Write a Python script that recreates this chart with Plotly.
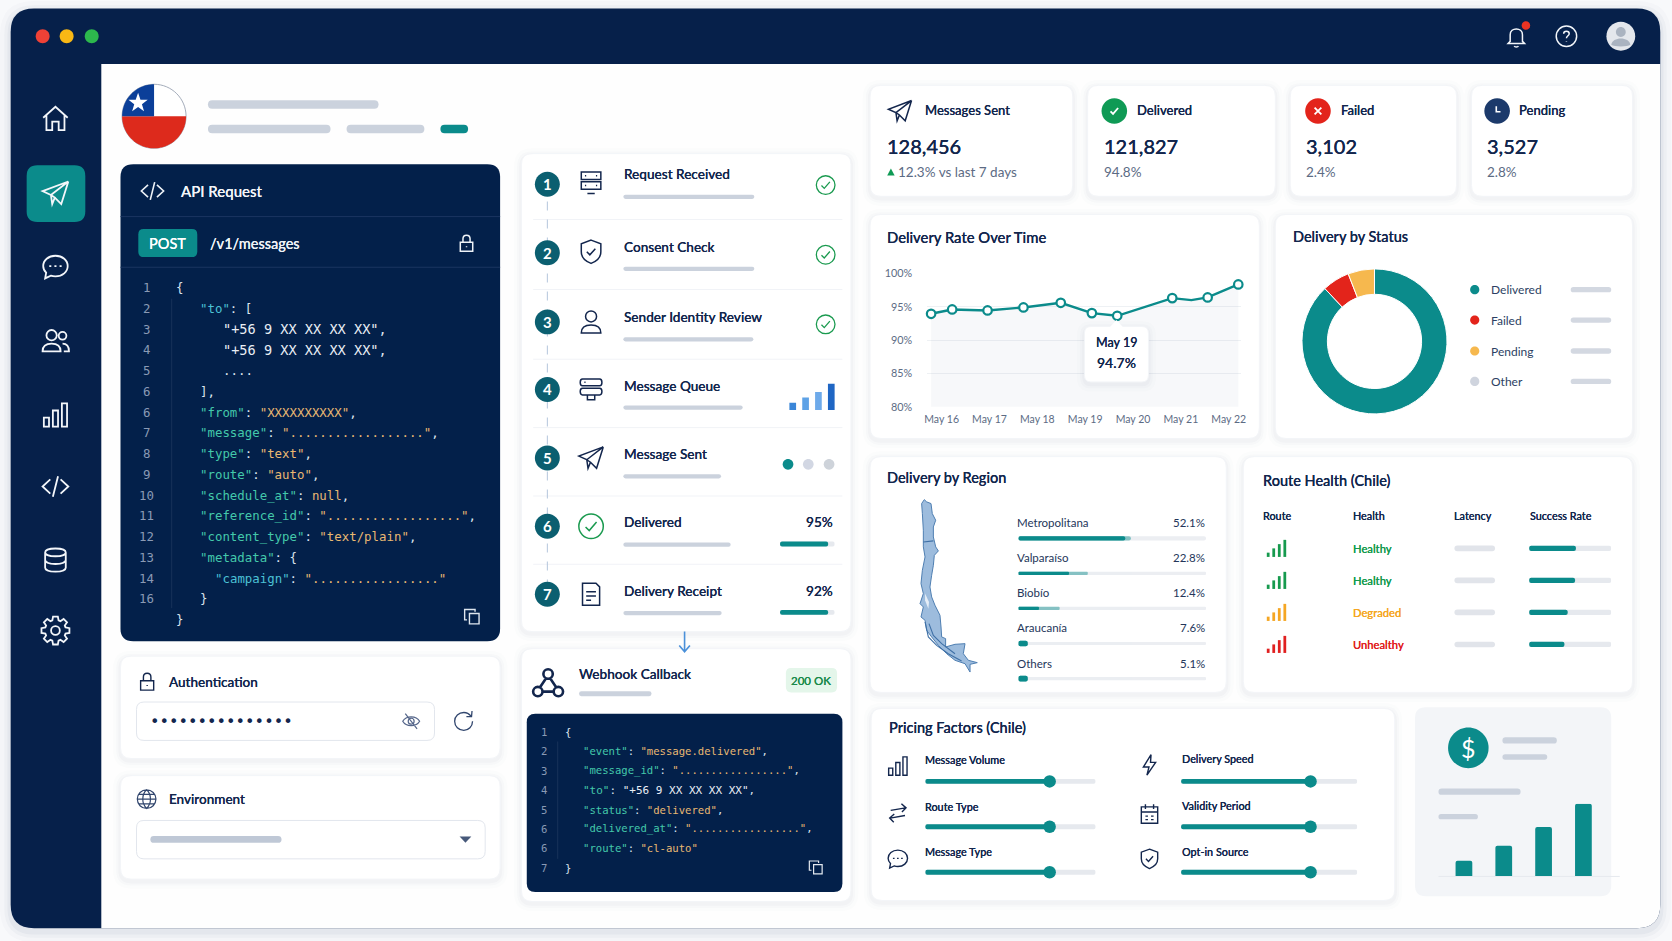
import math
import re
import plotly.graph_objects as go

# ---------- data ----------
rate_days = [15.78, 16.22, 16.96, 17.71, 18.49, 19.14, 19.67, 20.19, 20.82, 21.22, 21.56, 22.2]
rate_values = [93.95, 94.6, 94.45, 94.9, 95.6, 94.05, 93.65, 94.9, 96.3, 96.0, 96.4, 98.35]
rate_unmarked = [7, 9]
rate_tick_days = [16, 17, 18, 19, 20, 21, 22]
rate_tick_labels = ["May 16", "May 17", "May 18", "May 19", "May 20", "May 21", "May 22"]
rate_y_ticks = [80, 85, 90, 95, 100]
rate_y_labels = ["80%", "85%", "90%", "95%", "100%"]

status_names = ["Delivered", "Failed", "Pending", "Other"]
status_values = [88.0, 6.1, 5.9, 0]
status_colors = ["#0b8b8b", "#e3241b", "#f6b84e", "#cfd4de"]

region_names = ["Metropolitana", "Valparaíso", "Biobío", "Araucanía", "Others"]
region_labels = ["52.1%", "22.8%", "12.4%", "7.6%", "5.1%"]
region_bar = [60, 37, 22, 5, 5]
region_core = [57, 27, 11, 5, 5]

route_names = ["Route 1", "Route 2", "Route 3", "Route 4"]
route_health = ["Healthy", "Healthy", "Degraded", "Unhealthy"]
route_success = [57, 56, 47, 43]

pricing_left = ["Message Volume", "Route Type", "Message Type"]
pricing_left_values = [73, 73, 73]
pricing_right = ["Delivery Speed", "Validity Period", "Opt-in Source"]
pricing_right_values = [73.5, 73.5, 73.5]

steps = ["Request Received", "Consent Check", "Sender Identity Review", "Message Queue",
         "Message Sent", "Delivered", "Delivery Receipt"]
step_rates = ["Delivered", "Delivery Receipt"]
step_rate_labels = ["95%", "92%"]
step_rate_bars = [88, 88]

queue_levels = [27, 47, 68, 100]
price_levels = [15.3, 30.3, 49, 72.3]
price_slots = ["A", "B", "C", "D"]

stat_names = ["Messages Sent", "Delivered", "Failed", "Pending"]
stat_values = ["128,456", "121,827", "3,102", "3,527"]
stat_subs = ["12.3% vs last 7 days", "94.8%", "2.4%", "2.8%"]

K, S, P, C, W_ = "#43c9ab", "#e9b872", "#dde4ee", "#4cc2d6", "#e9eef5"
req_lines = [
    ("1", 165, [("{", P)]), ("2", 187.5, [('"to"', C), (": [", P)]),
    ("3", 208.8, [('"+56 9 XX XX XX XX"', W_), (",", P)]),
    ("4", 208.8, [('"+56 9 XX XX XX XX"', W_), (",", P)]),
    ("5", 208.8, [("....", P)]), ("6", 187.5, [("],", P)]),
    ("6", 187.5, [('"from"', K), (": ", P), ('"XXXXXXXXXX"', S), (",", P)]),
    ("7", 187.5, [('"message"', K), (": ", P), ('"..................\"', S), (",", P)]),
    ("8", 187.5, [('"type"', K), (": ", P), ('"text"', S), (",", P)]),
    ("9", 187.5, [('"route"', K), (": ", P), ('"auto"', S), (",", P)]),
    ("10", 187.5, [('"schedule_at"', K), (": ", P), ("null", S), (",", P)]),
    ("11", 187.5, [('"reference_id"', K), (": ", P), ('"..................\"', S), (",", P)]),
    ("12", 187.5, [('"content_type"', K), (": ", P), ('"text/plain"', S), (",", P)]),
    ("13", 187.5, [('"metadata"', K), (": {", P)]),
    ("14", 201.6, [('"campaign"', C), (": ", P), ('"................."', S)]),
    ("16", 187.5, [("}", P)]), ("", 165, [("}", P)]),
]
hook_lines = [
    ("1", 530, [("{", P)]),
    ("2", 547, [('"event"', K), (": ", P), ('"message.delivered"', S), (",", P)]),
    ("3", 547, [('"message_id"', K), (": ", P), ('"................."', S), (",", P)]),
    ("4", 547, [('"to"', K), (": ", P), ('"+56 9 XX XX XX XX"', W_), (",", P)]),
    ("5", 547, [('"status"', K), (": ", P), ('"delivered"', S), (",", P)]),
    ("6", 547, [('"delivered_at"', K), (": ", P), ('"................."', S), (",", P)]),
    ("6", 547, [('"route"', K), (": ", P), ('"cl-auto"', S)]),
    ("7", 530, [("}", P)]),
]

# ---------- page set up, coordinates below follow a 1568x882 grid ----------
W, H = 1568, 882
FONT = "Lato"
MONO = "DejaVu Sans Mono"
NAVY = "#06204a"
CODE_BG = "#03204a"
TEAL = "#0b8b8b"
INK = "#13264d"
GREY = "#5c6b84"
BAR = "#cbd2dd"
TRACK = "#e6e9ee"

shapes, notes, traces, axes = [], [], [], {}


def txt(x, y, s, size=14, color=INK, anchor="left", weight=500, family=FONT):
    font = dict(size=size, color=color, family=family, weight=weight)
    if weight == 500:
        font["shadow"] = f"0 0 0.35px {color}"
    if anchor == "left":
        x -= 0.8
    notes.append(dict(x=x, y=y, xref="x", yref="y", text=s, showarrow=False, xanchor=anchor,
                      yanchor="middle", borderpad=0, font=font))


def path(d, fill="rgba(0,0,0,0)", color=None, width=0, layer="below", opacity=None):
    s = dict(type="path", path=d, xref="x", yref="y", layer=layer, fillcolor=fill,
             line=dict(color=color or "rgba(0,0,0,0)", width=width))
    if opacity is not None:
        s["opacity"] = opacity
    shapes.append(s)


def rr(x0, y0, x1, y1, r):
    return (f"M {x0+r} {y0} L {x1-r} {y0} Q {x1} {y0} {x1} {y0+r} L {x1} {y1-r} Q {x1} {y1} {x1-r} {y1} "
            f"L {x0+r} {y1} Q {x0} {y1} {x0} {y1-r} L {x0} {y0+r} Q {x0} {y0} {x0+r} {y0} Z")


def round_box(x0, y0, x1, y1, r, fill, color=None, width=0, layer="below"):
    path(rr(x0, y0, x1, y1, r), fill, color, width, layer)


def pill(x0, y0, x1, y1, fill=BAR):
    round_box(x0, y0, x1, y1, (y1 - y0) / 2, fill)


def circ(cx, cy, r):
    k = 0.5523 * r
    return (f"M {cx+r} {cy} C {cx+r} {cy+k} {cx+k} {cy+r} {cx} {cy+r} C {cx-k} {cy+r} {cx-r} {cy+k} {cx-r} {cy} "
            f"C {cx-r} {cy-k} {cx-k} {cy-r} {cx} {cy-r} C {cx+k} {cy-r} {cx+r} {cy-k} {cx+r} {cy} Z")


def dot(cx, cy, r, fill, color=None, width=0, layer="below"):
    path(circ(cx, cy, r), fill, color, width, layer)


def card(x0, y0, x1, y1, r=10, fill="#ffffff", layer="below"):
    for grow, alpha in ((7, 0.012), (4, 0.018), (2, 0.025)):
        round_box(x0 - grow, y0 - grow + 2, x1 + grow, y1 + grow + 2, r + grow, f"rgba(40,60,100,{alpha})", layer=layer)
    round_box(x0, y0, x1, y1, r, fill, "#f3f5f8", 1, layer)


def gear():
    pts = []
    for i in range(8):
        a = i * math.pi / 4
        for da, rad in ((-0.30, 8.2), (-0.17, 11), (0.17, 11), (0.30, 8.2)):
            pts.append((12 + rad * math.cos(a + da), 12 + rad * math.sin(a + da)))
    return "M " + " L ".join(f"{round(px, 2)} {round(py, 2)}" for px, py in pts) + " Z " + circ(12, 12, 3.4)


ICONS = {
    "home": "M 2.5 11.5 L 12 3 L 21.5 11.5 M 5 9.5 L 5 21 L 9.5 21 L 9.5 14.5 L 14.5 14.5 L 14.5 21 L 19 21 L 19 9.5",
    "send": "M 22 3 L 2 10.5 L 8.5 13.5 L 22 3 M 22 3 L 16.5 20.5 L 11.5 15.5 M 8.5 13.5 L 9.5 20.5 L 11.5 15.5 L 8.5 13.5",
    "chat": "M 12 3.5 C 17.5 3.5 21.5 7 21.5 11.5 C 21.5 16 17.5 19.5 12 19.5 C 10.7 19.5 9.5 19.3 8.4 18.9 L 4 21 L 4.8 16.6 "
            "C 3.3 15.2 2.5 13.4 2.5 11.5 C 2.5 7 6.5 3.5 12 3.5 Z M 7.2 11.5 L 8.8 11.5 M 11.2 11.5 L 12.8 11.5 M 15.2 11.5 L 16.8 11.5",
    "users": circ(9, 8, 4) + " M 2 20.5 C 2 16 5 14.5 9 14.5 C 13 14.5 16 16 16 20.5 Z " + circ(17.5, 8.5, 3)
             + " M 17.5 14.5 C 20.5 14.5 22.5 16.5 22.5 20.5 L 18.5 20.5",
    "bars": "M 3 14 L 7 14 L 7 21 L 3 21 Z M 10 8.5 L 14 8.5 L 14 21 L 10 21 Z M 17 3 L 21 3 L 21 21 L 17 21 Z",
    "code": "M 8 6.5 L 2 12 L 8 17.5 M 16 6.5 L 22 12 L 16 17.5 M 14 4 L 10 20",
    "db": "M 4 6 C 4 2 20 2 20 6 C 20 10 4 10 4 6 Z M 4 6 L 4 18 C 4 22 20 22 20 18 L 20 6 M 4 12 C 4 16 20 16 20 12",
    "gear": gear(),
    "lock": "M 5 11 L 19 11 L 19 21 L 5 21 Z M 8 11 L 8 7 C 8 1.5 16 1.5 16 7 L 16 11 M 12 15.4 L 12 16.6",
    "copy": "M 9 8 L 21 8 L 21 21 L 9 21 Z M 6 16 L 3 16 L 3 3 L 16 3 L 16 6",
    "eyeoff": "M 2 12 C 6 5 18 5 22 12 C 18 19 6 19 2 12 Z " + circ(12, 12, 3.5) + " M 5 3 L 19 21",
    "refresh": "M 20.5 12 C 20.5 17 16.5 21 12 21 C 7 21 3 17 3 12 C 3 7 7 3.5 12 3.5 C 14.5 3.5 17 4.5 19 7 M 20 2 L 19.5 7.5 L 14.5 7.5",
    "globe": circ(12, 12, 10) + " M 2 12 L 22 12 M 12 2 C 6.5 7 6.5 17 12 22 C 17.5 17 17.5 7 12 2 Z M 3.8 7 L 20.2 7 M 3.8 17 L 20.2 17",
    "webhook": circ(12, 6, 3.2) + " " + circ(5, 18, 3.2) + " " + circ(19, 18, 3.2) + " M 10.5 9 L 6.5 15 M 13.5 9 L 17.5 15 M 8.2 18 L 15.8 18",
    "server": "M 4 3 L 20 3 L 20 9 L 4 9 Z M 4 11 L 20 11 L 20 17 L 4 17 Z M 9 20.5 L 15 20.5 M 7 6 L 8 6 M 16 6 L 17 6 M 7 14 L 8 14 M 16 14 L 17 14",
    "queue": "M 5 3.5 L 19 3.5 C 21.5 3.5 21.5 9 19 9 L 5 9 C 2.5 9 2.5 3.5 5 3.5 Z M 5 11 L 19 11 C 21.5 11 21.5 16.5 19 16.5 L 5 16.5 "
             "C 2.5 16.5 2.5 11 5 11 Z M 9 16.5 L 9 20.5 L 15 20.5 L 15 16.5 M 6.5 6.2 L 7.5 6.2",
    "shield": "M 12 2.5 L 20 5.5 L 20 12 C 20 17 16 20 12 21.5 C 8 20 4 17 4 12 L 4 5.5 Z M 8.5 12 L 11 14.5 L 15.5 9.5",
    "user": circ(12, 7.5, 4.5) + " M 4 21 C 4 16 7.5 14.5 12 14.5 C 16.5 14.5 20 16 20 21 Z",
    "doc": "M 5 3 L 16 3 L 19 6 L 19 21 L 5 21 Z M 8 10 L 16 10 M 8 13.5 L 16 13.5 M 8 17 L 12 17",
    "bolt": "M 13.5 2 L 6 14 L 11.5 14 L 9.5 22 L 18 9.5 L 13 9.5 Z",
    "swap": "M 5 9.5 L 19.5 7 M 15.5 3 L 20 7 L 16 11 M 19 14.5 L 4.5 17 M 8.5 13 L 4 17 L 8 21",
    "calendar": "M 4 5 L 20 5 L 20 21 L 4 21 Z M 4 10 L 20 10 M 8 2.5 L 8 7 M 16 2.5 L 16 7 M 8 14 L 10.5 14 M 13.5 14 L 16 14 M 8 17.5 L 10.5 17.5 M 13.5 17.5 L 16 17.5",
    "bell": "M 6 17 L 6 10.5 C 6 3 18 3 18 10.5 L 18 17 L 20 19 L 4 19 Z M 10 21.5 C 10.5 22.8 13.5 22.8 14 21.5",
    "help": circ(12, 12, 10) + " M 9.3 9.5 C 9.3 6.3 14.7 6.3 14.7 9.5 C 14.7 11.5 12 11.5 12 14 M 12 17 L 12 17.6",
    "check": "M 7.5 12.5 L 10.5 15.5 L 16.5 8.5",
    "ring": circ(12, 12, 10),
    "cross": "M 8 8 L 16 16 M 16 8 L 8 16",
    "clock": "M 11 6.5 L 11 13 L 16 13",
}


def icon(name, cx, cy, size=24, color=INK, width=1.6, layer="below"):
    scale = size / 24
    parts, is_x = [], True
    for tok in re.findall(r"[MLCQZ]|-?[0-9.]+", ICONS[name]):
        if tok.isalpha():
            parts.append(tok)
            is_x = True
        else:
            val = float(tok) - 12
            parts.append(str(round((cx if is_x else cy) + val * scale, 2)))
            is_x = not is_x
    path(" ".join(parts), color=color, width=width, layer=layer)


def new_axes(x0, y0, x1, y1, xrange, yrange, xextra=None, yextra=None):
    n = len(axes) // 2 + 2
    base = dict(visible=False, fixedrange=True, showgrid=False, zeroline=False)
    axes[f"xaxis{n}"] = {**base, "domain": [x0 / W, x1 / W], "range": xrange, "anchor": f"y{n}", **(xextra or {})}
    axes[f"yaxis{n}"] = {**base, "domain": [1 - y1 / H, 1 - y0 / H], "range": yrange, "anchor": f"x{n}", **(yextra or {})}
    return f"x{n}", f"y{n}"


def hbars(xa, ya, names, values, color, thick, radius=3, opacity=None):
    traces.append(go.Bar(x=values, y=names, orientation="h", xaxis=xa, yaxis=ya, width=thick, base=0,
                         marker=dict(color=color, cornerradius=radius, line=dict(width=0)),
                         opacity=opacity, hoverinfo="skip", showlegend=False))


# ---------- window chrome ----------
for grow, alpha in ((10, 0.02), (6, 0.03), (3, 0.04)):
    round_box(10 - grow, 8 - grow + 3, 1557 + grow, 870 + grow + 3, 22 + grow, f"rgba(30,50,90,{alpha})")
round_box(10, 8, 1557, 870, 22, NAVY)
path("M 95 60 L 1557 60 L 1557 848 Q 1557 870 1535 870 L 95 870 Z", "#fefefe")
for x, col in ((40, "#ef4136"), (62.5, "#f9b815"), (86, "#2db84d")):
    dot(x, 34, 6.5, col)
icon("bell", 1422, 34, 23, "#f3f6fa", 1.5)
dot(1431, 24, 4, "#ea3323")
icon("help", 1469, 34, 23, "#f3f6fa", 1.5)
dot(1520, 34, 13.5, "#e4e7ec")
dot(1520, 30, 4.6, "#aab3c0")
path("M 1511 42 C 1512 34 1528 34 1529 42 C 1526 44 1514 44 1511 42 Z", "#aab3c0")

round_box(25, 155, 80, 208, 10, TEAL)
side = [("home", 111), ("send", 181), ("chat", 250), ("users", 319), ("bars", 389), ("code", 456), ("db", 525), ("gear", 591)]
for name, y in side:
    icon(name, 52, y, 29, "#f3f6fa", 1.8)

# flag
fx, fy, fr = 144.5, 109, 30


def sector(a0, a1, extra=None):
    pts = [(fx + fr * math.cos(math.radians(a)), fy + fr * math.sin(math.radians(a)))
           for a in range(a0, a1 + 1, 3)]
    if extra:
        pts.append(extra)
    return "M " + " L ".join(f"{round(a, 2)} {round(b, 2)}" for a, b in pts) + " Z"


dot(fx, fy, fr, "#ffffff", "#8d97a8", 0.8)
path(sector(0, 180), "#dd2a1c")
path(sector(180, 270, (fx, fy)), "#0b3f99")
star = []
for i in range(10):
    rad = 9.5 if i % 2 == 0 else 3.8
    a = -math.pi / 2 + i * math.pi / 5
    star.append(f"{round(129.5 + rad * math.cos(a), 2)} {round(96.5 + rad * math.sin(a), 2)}")
path("M " + " L ".join(star) + " Z", "#ffffff")
pill(195, 94, 355, 102)
pill(195, 117, 310, 125)
pill(325, 117, 398, 125)
pill(413, 117, 439, 125, TEAL)

# ---------- API request panel ----------
round_box(113, 154, 469, 601, 12, CODE_BG)
path("M 113 203 L 469 203 M 113 250.5 L 469 250.5", color="#1b3560", width=1)
path("M 161 280 L 161 570", color="#183259", width=1)
icon("code", 143, 179, 25, "#eef2f7", 1.6)
txt(170, 179, "API Request", 15, "#f2f5f9")
round_box(129.7, 214.7, 185, 241, 5, TEAL)
txt(157.3, 228, "POST", 14.5, "#ffffff", "center")
txt(197, 228, "/v1/messages", 14.5, "#eef2f7")
icon("lock", 437.5, 228, 20, "#eef2f7", 1.5)
icon("copy", 442.5, 578, 18, "#dfe6ef", 1.4)


def code_block(lines, no_x, y0, step, size, phone_size):
    for i, (no, x, parts) in enumerate(lines):
        y = y0 + i * step
        if no:
            txt(no_x, y, no, size, "#8a9ab5", "center", 400, MONO)
        s = "".join(f'<span style="color:{c}">{t}</span>' for t, c in parts)
        txt(x, y, s, phone_size if "+56" in s else size, P, "left", 400, MONO)


code_block(req_lines, 137.5, 269.6, 19.45, 12.4, 13.6)

# ---------- auth and environment ----------
card(113, 615, 469, 711)
icon("lock", 138, 639, 21, INK, 1.4)
txt(158.6, 639, "Authentication", 13.5)
round_box(128, 658, 407.5, 694, 7, "#ffffff", "#e2e6ed", 1)
txt(207.5, 676, "•" * 15, 15.8, INK, "center", 400, MONO)
icon("eyeoff", 385.6, 676, 19, "#55668a", 1.2)
icon("refresh", 435, 676, 23, "#31466e", 1.3)
card(113, 727, 469, 824)
icon("globe", 137.5, 749, 21, "#31466e", 1.2)
txt(158.6, 749, "Environment", 13.5)
round_box(128, 769, 455, 805, 7, "#ffffff", "#e2e6ed", 1)
pill(141, 783.5, 264, 790, "#bfc8d6")
path("M 431 784 L 442 784 L 436.5 790 Z", "#47597a")

# ---------- flow steps ----------
card(489, 144, 798, 592)
for y in (205.7, 271.3, 336.7, 400.8, 464.9, 528.9):
    path(f"M 500 {y} L 790 {y}", color="#f1f3f7", width=1)
shapes.append(dict(type="line", x0=513.3, x1=513.3, y0=172, y1=557, xref="x", yref="y", layer="below",
                   line=dict(color="#b4c6dc", width=1, dash="dash")))
step_y = [172.6, 237, 301.7, 365, 429.2, 493.3, 557]
step_label_y = [163.2, 231.3, 297, 361.4, 425.5, 489.6, 554]
step_bar_y = [184.5, 252, 318, 382, 446.4, 510.5, 574.6]
step_bar_x = [707.4, 707.4, 706.5, 696.5, 676.2, 685.2, 676.8]
step_icons = ["server", "shield", "user", "queue", "send", "ring", "doc"]
for i, name in enumerate(steps):
    dot(513.3, step_y[i], 11.7, "#0b5f70")
    txt(513.3, step_y[i], str(i + 1), 15, "#ffffff", "center", 700)
    color, lw = ("#1a9a4f", 1.5) if step_icons[i] == "ring" else (INK, 1.5)
    icon(step_icons[i], 554.3, step_y[i] - (1 if i < 2 else 0), 27.5, color, lw)
    if step_icons[i] == "ring":
        icon("check", 554.3, step_y[i], 27.5, color, lw)
    txt(584.6, step_label_y[i], name, 13.6)
    pill(584.6, step_bar_y[i] - 2, step_bar_x[i], step_bar_y[i] + 2)
for y in (173.5, 238.8, 304):
    icon("ring", 774.3, y, 21, "#1a9a4f", 1.3)
    icon("check", 774.3, y, 21, "#1a9a4f", 1.3)
for x, col in ((739, TEAL), (758, "#d2d7e3"), (777.5, "#ced3da")):
    dot(x, 435.2, 5, col)
for y, s in zip((489.2, 554), step_rate_labels):
    txt(782, y, s, 13.6, anchor="right")

xa, ya = new_axes(737.4, 359.5, 785.6, 384.2, [-0.5, 3.5], [0, 100])
traces.append(go.Bar(x=price_slots, y=queue_levels, xaxis=xa, yaxis=ya, width=0.52,
                     marker=dict(color=["#3a86d8", "#5ea2e6", "#6eaaea", "#1f66c4"], line=dict(width=0)),
                     hoverinfo="skip", showlegend=False))
xa, ya = new_axes(731.5, 477.9, 782.8, 606, [0, 100], [1.5, -0.5], yextra=dict(type="category"))
hbars(xa, ya, step_rates, [100, 100], TRACK, 0.073)
hbars(xa, ya, step_rates, step_rate_bars, TEAL, 0.073)

# ---------- webhook ----------
path("M 642 592 L 642 610 M 637 605 L 642 611 L 647 605", color="#4a90d9", width=1.6, layer="above")
card(489, 608, 798, 845)
icon("webhook", 514, 640, 33, INK, 2.6)
txt(542.5, 632, "Webhook Callback", 13.6)
pill(543, 648, 611, 652.5)
round_box(737, 626, 785, 649, 5, "#e4f6ea")
txt(761, 637.5, "200 OK", 11.5, "#1a8a4a", "center")
round_box(494, 669, 790, 836, 8, CODE_BG)
path("M 523 695 L 523 805", color="#183259", width=1)
code_block(hook_lines, 510.6, 686, 18.2, 10.6, 11)
icon("copy", 765, 813, 16, "#e4e9f0", 1.2)

# ---------- stat cards ----------
for x0, x1 in ((816, 1006), (1020, 1196), (1210, 1366), (1380, 1531)):
    card(x0, 80, x1, 184)
icon("send", 844, 104, 26, INK, 1.5)
dot(1045, 104, 12, "#0f9a55")
icon("check", 1045, 104, 19, "#ffffff", 1.8)
dot(1236, 104, 12, "#e3241b")
icon("cross", 1236, 104, 19, "#ffffff", 1.8)
dot(1404, 104, 12, "#1c3a6b")
icon("clock", 1404, 104, 19, "#ffffff", 1.6)
for i, (lx, vx) in enumerate(((867, 832), (1066, 1035), (1257, 1225), (1424, 1394))):
    txt(lx, 103.5, stat_names[i], 13)
    txt(vx, 137, stat_values[i], 20)
    txt(vx + (10 if i == 0 else 0), 161, stat_subs[i], 13.5, GREY, weight=400)
path("M 832 164.5 L 839 164.5 L 835.5 158 Z", "#0f9a55")

# ---------- delivery rate line chart ----------
card(816, 201, 1181, 411)
txt(832, 222, "Delivery Rate Over Time", 14.8)
xa, ya = new_axes(
    869.6, 256.3, 1163.5, 381.3, [15.7, 22.25], [80, 100],
    dict(visible=True, tickmode="array", tickvals=rate_tick_days, ticktext=rate_tick_labels, ticks="", showline=False,
         ticklabelstandoff=5, tickfont=dict(size=10.5, color=GREY, family=FONT)),
    dict(visible=True, tickmode="array", tickvals=rate_y_ticks, ticktext=rate_y_labels, ticks="", showline=False,
         showgrid=True, gridcolor="#eef1f4", ticklabelstandoff=14, tickfont=dict(size=10.8, color=GREY, family=FONT)),
)
traces.append(go.Scatter(x=rate_days, y=rate_values, xaxis=xa, yaxis=ya, mode="lines", fill="tozeroy",
                         fillcolor="rgba(120,140,170,0.06)", line=dict(color=TEAL, width=2.4),
                         hoverinfo="skip", showlegend=False))
marked = [i for i in range(len(rate_days)) if i not in rate_unmarked]
traces.append(go.Scatter(x=[rate_days[i] for i in marked], y=[rate_values[i] for i in marked], xaxis=xa, yaxis=ya,
                         mode="markers", cliponaxis=False, hoverinfo="skip", showlegend=False,
                         marker=dict(size=8.5, color="#ffffff", line=dict(color=TEAL, width=2.2))))
card(1017, 306, 1077, 358, 6, layer="above")
path("M 1041 306.5 L 1047 300 L 1053 306.5 Z", "#ffffff", layer="above")
txt(1047, 321, "May 19", 12.5, anchor="center")
txt(1047, 339.5, "94.7%", 14, anchor="center")

# ---------- delivery by status ----------
card(1196, 201, 1531, 411)
txt(1212, 222, "Delivery by Status", 14.5)
traces.append(go.Pie(labels=status_names, values=status_values, sort=False, direction="clockwise", rotation=0,
                     hole=0.65, textinfo="none", hoverinfo="skip", showlegend=False,
                     domain=dict(x=[1221 / W, 1357 / W], y=[1 - 388 / H, 1 - 252 / H]),
                     marker=dict(colors=status_colors, line=dict(color="#ffffff", width=1))))
for name, col, y in zip(status_names, status_colors, (271.5, 300, 329, 357.5)):
    dot(1383, y, 4.3, col)
    txt(1398, y, name, 12, "#2d3f63", weight=400)
    pill(1473, y - 2.5, 1511, y + 2.5, "#d3d8e1")

# ---------- delivery by region ----------
card(816, 428, 1150, 649)
txt(832, 448, "Delivery by Region", 14.5)
chile = [(58, 28), (65, 35), (78, 40), (82, 70), (92, 90), (85, 110), (85, 140), (92, 170), (100, 182), (88, 195),
         (85, 225), (80, 255), (75, 290), (80, 320), (90, 345), (105, 375), (108, 410), (110, 440), (122, 445),
         (122, 470), (150, 462), (180, 460), (175, 490), (190, 510), (217, 517), (195, 522), (195, 545), (180, 520),
         (150, 510), (125, 490), (100, 465), (80, 440), (65, 420), (60, 390), (48, 380), (55, 350), (45, 340),
         (55, 310), (48, 280), (52, 240), (60, 200), (55, 170), (55, 120), (52, 70), (50, 40)]


def map_pt(a, b):
    return f"{round(848.7 + a * 0.3126, 1)} {round(459.5 + b * 0.3126, 1)}"


path("M " + " L ".join(map_pt(a, b) for a, b in chile) + " Z", "#9dbcdd", "#4f7fb2", 1)
for line in ([(55, 155), (85, 152)], [(60, 395), (70, 440), (95, 465), (130, 490), (170, 512)],
             [(72, 400), (85, 435), (110, 460), (150, 490)]):
    path("M " + " L ".join(map_pt(a, b) for a, b in line), color="#3f70a6", width=1.1)
path("M " + " L ".join(map_pt(a, b) for a, b in [(60, 310), (72, 335), (70, 355), (60, 330)]) + " Z", "#e6eef7")
xa, ya = new_axes(955, 488.1, 1131, 652.5, [0, 100], [4.5, -0.5], yextra=dict(type="category"))
hbars(xa, ya, region_names, [100] * 5, "#eceef2", [0.12, 0.09, 0.09, 0.09, 0.09])
hbars(xa, ya, region_names, region_bar, TEAL, [0.12, 0.09, 0.09, 0.16, 0.16], opacity=0.45)
hbars(xa, ya, region_names, region_core, TEAL, [0.12, 0.09, 0.09, 0.16, 0.16])
for i, (name, label) in enumerate(zip(region_names, region_labels)):
    y = 490 + i * 33 - (0.5 if i else 0)
    txt(954, y, name, 11.5, "#24365a", weight=400)
    txt(1131, y, label, 11.5, "#24365a", "right", 400)

# ---------- route health ----------
card(1166, 428, 1531, 649)
txt(1184, 450, "Route Health (Chile)", 14.5)
for x, s in ((1184, "Route"), (1269, "Health"), (1363, "Latency"), (1435, "Success Rate")):
    txt(x, 483.5, s, 10.8)
health_colors = {"Healthy": "#169a4e", "Degraded": "#f5a623", "Unhealthy": "#e02020"}
for i, state in enumerate(route_health):
    y = 514 + i * 30
    col = health_colors[state]
    for j, h in enumerate((4, 8, 12, 16)):
        bx = 1188 + j * 5.2
        path(f"M {bx} {y+8} L {bx+2.6} {y+8} L {bx+2.6} {y+8-h} L {bx} {y+8-h} Z", col)
    txt(1269, y, state, 11.2, col)
    pill(1364, y - 2.6, 1402, y + 2.6, "#e1e4ea")
xa, ya = new_axes(1434, 499, 1511, 619, [0, 100], [3.5, -0.5], yextra=dict(type="category"))
hbars(xa, ya, route_names, [100] * 4, "#e6e9ee", 0.17)
hbars(xa, ya, route_names, route_success, TEAL, 0.17)

# ---------- pricing factors ----------
card(817, 664, 1308, 844)
txt(834, 682, "Pricing Factors (Chile)", 14.5)
for name, y, ly, ic in zip(pricing_left, (718, 762, 805), (712, 755.5, 798), ("bars", "swap", "chat")):
    icon(ic, 842, y, 23, INK, 1.4)
    txt(867, ly, name, 10.8)
for name, y, ly, ic in zip(pricing_right, (717, 763, 805), (711, 755, 798), ("bolt", "calendar", "shield")):
    icon(ic, 1078, y, 23, INK, 1.4)
    txt(1108, ly, name, 10.8)
for x0, x1, names, values in ((867.7, 1027.5, pricing_left, pricing_left_values),
                              (1107.6, 1272.8, pricing_right, pricing_right_values)):
    xa, ya = new_axes(x0, 711.1, x1, 838.8, [0, 100], [2.5, -0.5], yextra=dict(type="category"))
    hbars(xa, ya, names, [100] * 3, "#e6e9ee", 0.11)
    hbars(xa, ya, names, values, TEAL, 0.11)
    traces.append(go.Scatter(x=values, y=names, xaxis=xa, yaxis=ya, mode="markers", cliponaxis=False,
                             marker=dict(size=12.5, color=TEAL), hoverinfo="skip", showlegend=False))

# ---------- price teaser ----------
round_box(1327, 663, 1511, 840, 10, "#f3f5f8")
dot(1377, 701, 19, TEAL)
txt(1377, 701, "$", 25, "#ffffff", "center", 400)
pill(1409, 691, 1460, 697)
pill(1409, 707, 1451, 712)
pill(1349, 739, 1426, 745)
pill(1349, 763, 1386, 768)
path("M 1349 821.5 L 1519 821.5", color="#e6e9ee", width=1)
xa, ya = new_axes(1354.2, 753.3, 1503.6, 821, [-0.5, 3.5], [0, 72.3])
traces.append(go.Bar(x=price_slots, y=price_levels, xaxis=xa, yaxis=ya, width=0.42,
                     marker=dict(color=TEAL, cornerradius=2, line=dict(width=0)), hoverinfo="skip", showlegend=False))

# ---------- figure ----------
fig = go.Figure()
fig.add_trace(go.Scatter(x=[0], y=[0], xaxis="x", yaxis="y", mode="markers", marker=dict(opacity=0),
                         hoverinfo="skip", showlegend=False))
fig.add_traces(traces)
fig.update_layout(
    width=1672, height=941, margin=dict(l=0, r=0, t=0, b=0, autoexpand=False), autosize=False,
    paper_bgcolor="#f8f9fb", plot_bgcolor="rgba(0,0,0,0)", barmode="overlay", hovermode=False,
    xaxis=dict(domain=[0, 1], range=[0, W], visible=False, fixedrange=True),
    yaxis=dict(domain=[0, 1], range=[H, 0], visible=False, fixedrange=True),
    shapes=shapes, annotations=notes, **axes,
)
fig.write_html("out.html", config=dict(displayModeBar=False),
               post_script="document.body.style.margin='0';document.body.style.overflow='hidden';")
